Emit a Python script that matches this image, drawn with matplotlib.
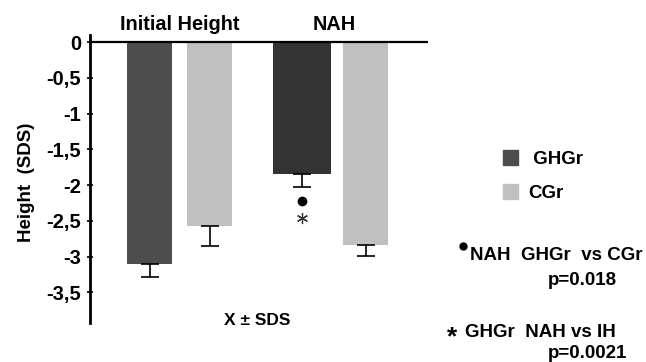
import matplotlib
matplotlib.use("Agg")
import matplotlib.pyplot as plt
from matplotlib.patches import Patch
from matplotlib.lines import Line2D

# data (height SDS, mean and SD)
groups = ["Initial Height", "NAH"]
ghgr_mean = [-3.10, -1.85]
ghgr_sd = [0.19, 0.18]
cgr_mean = [-2.57, -2.84]
cgr_sd = [0.28, 0.15]
yticks = [0, -0.5, -1, -1.5, -2, -2.5, -3, -3.5]
ytick_labels = ["0", "-0,5", "-1", "-1,5", "-2", "-2,5", "-3", "-3,5"]

plt.rcParams["font.family"] = ["Liberation Sans", "DejaVu Sans"]
plt.rcParams["font.weight"] = "bold"

W, H = 646, 362
fig = plt.figure(figsize=(W / 100, H / 100), dpi=100)
ax = fig.add_axes([90 / W, (H - 323) / H, 338 / W, 288 / H])

# layout (x in pixel-like units along the axis)
ghgr_x = [59.5, 212]
cgr_x = [119.5, 275.5]
ghgr_w = [45, 58]
cgr_w = [45, 45]
ghgr_col = ["#4d4d4d", "#333333"]
cgr_col = "#c0c0c0"

ax.bar(ghgr_x, ghgr_mean, width=ghgr_w, color=ghgr_col, zorder=2)
ax.bar(cgr_x, cgr_mean, width=cgr_w, color=cgr_col, zorder=2)

ekw = dict(fmt="none", ecolor="black", elinewidth=1.2, capsize=6.5, capthick=1.2, zorder=3)
ax.errorbar(ghgr_x, ghgr_mean, yerr=[ghgr_sd, [0, 0]], **ekw)
ax.errorbar(cgr_x, cgr_mean, yerr=[cgr_sd, [0, 0]], **ekw)

# significance marks under NAH GHGr bar
mx = ghgr_x[1]
my = ghgr_mean[1] - ghgr_sd[1]
ax.plot([mx], [my - 0.20], marker="o", markersize=6, color="black", zorder=3)
ax.plot([mx], [my - 0.43], marker=(6, 2, 0), markersize=8, markeredgewidth=0.9,
        color="#333333", zorder=3)

ax.axhline(0, color="black", linewidth=1.6, zorder=4)

ax.set_xlim(0, 338)
ax.set_ylim(-3.93, 0.098)
ax.set_yticks(yticks)
ax.set_yticklabels(ytick_labels, fontsize=14.5, fontweight="bold")
ax.tick_params(axis="y", direction="inout", length=5, width=1.2, pad=4)

grp_centres = [(a + b) / 2 for a, b in zip(ghgr_x, cgr_x)]
ax.xaxis.tick_top()
ax.set_xticks(grp_centres)
ax.set_xticklabels(groups, fontsize=14.3, fontweight="bold")
ax.tick_params(axis="x", length=0, pad=1)

for s in ["top", "right", "bottom"]:
    ax.spines[s].set_visible(False)
ax.spines["left"].set_linewidth(2)

ax.set_ylabel("Height  (SDS)", fontsize=13.5, fontweight="bold")
ax.yaxis.set_label_coords(-0.163, 0.49)

def ftext(x, y, s, **kw):
    fig.text(x / W, 1 - y / H, s, fontweight="bold", **kw)

ftext(257, 325, "X ± SDS", fontsize=12.5, ha="center", va="baseline")

handles = [Patch(color=ghgr_col[0]), Patch(color=cgr_col)]
fig.legend(handles, [" GHGr", "CGr"], loc="upper left",
           bbox_to_anchor=(495 / W, 1 - 143 / H), frameon=False,
           fontsize=13.5, handlelength=0.85, handleheight=0.85,
           handletextpad=0.5, labelspacing=0.85, borderaxespad=0)

# footnote bullet
fig.add_artist(Line2D([463 / W], [1 - 246 / H], marker="o", markersize=5,
                      color="black", transform=fig.transFigure))
ftext(470, 260, "NAH  GHGr  vs CGr", fontsize=13.5, ha="left", va="baseline")
ftext(548, 285, "p=0.018", fontsize=13.5, ha="left", va="baseline")
ftext(452, 337, "*", fontsize=19, ha="center", va="center")
ftext(465, 337, "GHGr  NAH vs IH", fontsize=13.5, ha="left", va="baseline")
ftext(548, 358, "p=0.0021", fontsize=13.5, ha="left", va="baseline")

fig.savefig("out.png", dpi=100, facecolor="white")
